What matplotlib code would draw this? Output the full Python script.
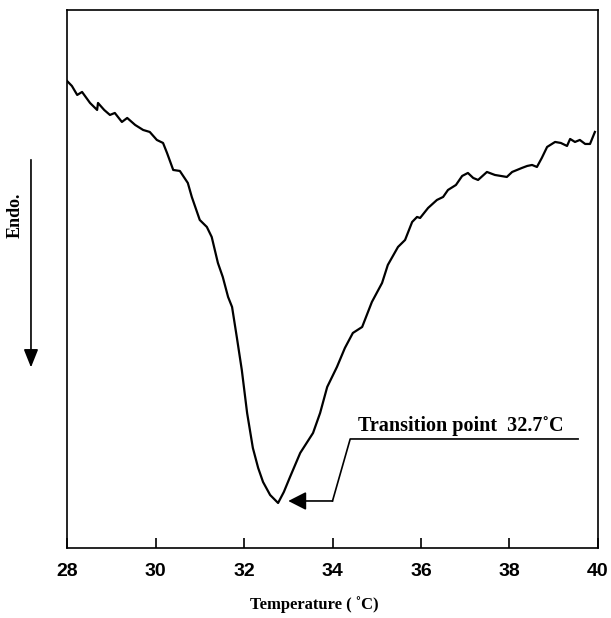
import matplotlib.pyplot as plt

# DSC trace (temperature in degC, heat flow in arbitrary units)
temp = [28.00, 28.11, 28.23, 28.34, 28.52, 28.68, 28.70, 28.84, 28.97, 29.08,
        29.24, 29.36, 29.54, 29.72, 29.87, 30.03, 30.17, 30.26, 30.40, 30.55,
        30.73, 30.82, 31.00, 31.16, 31.27, 31.41, 31.52, 31.64, 31.73, 31.84,
        31.95, 32.07, 32.20, 32.32, 32.43, 32.59, 32.77, 32.90, 33.04, 33.27,
        33.56, 33.72, 33.88, 34.10, 34.28, 34.46, 34.67, 34.89, 35.12, 35.25,
        35.48, 35.64, 35.80, 35.91, 35.98, 36.16, 36.36, 36.50, 36.61, 36.79,
        36.93, 37.06, 37.18, 37.29, 37.49, 37.67, 37.94, 38.06, 38.17, 38.28,
        38.40, 38.51, 38.62, 38.73, 38.85, 39.03, 39.16, 39.30, 39.37, 39.48,
        39.59, 39.71, 39.82, 39.93]
heat = [4.67, 4.62, 4.53, 4.56, 4.45, 4.38, 4.45, 4.38, 4.33, 4.35,
        4.26, 4.30, 4.23, 4.18, 4.16, 4.08, 4.05, 3.95, 3.78, 3.77,
        3.65, 3.51, 3.28, 3.21, 3.11, 2.85, 2.71, 2.51, 2.41, 2.10,
        1.78, 1.35, 1.00, 0.80, 0.66, 0.53, 0.45, 0.56, 0.71, 0.95,
        1.15, 1.35, 1.61, 1.81, 2.00, 2.15, 2.21, 2.46, 2.65, 2.83,
        3.01, 3.08, 3.26, 3.31, 3.30, 3.40, 3.48, 3.51, 3.58, 3.63,
        3.72, 3.75, 3.70, 3.68, 3.76, 3.73, 3.71, 3.76, 3.78, 3.80,
        3.82, 3.83, 3.81, 3.90, 4.01, 4.06, 4.05, 4.02, 4.09, 4.06,
        4.08, 4.04, 4.04, 4.16]
xticks = [28, 30, 32, 34, 36, 38, 40]
transition = 32.7

fig = plt.figure(figsize=(6.11, 6.18), dpi=100)
ax = fig.add_axes([0.1097, 0.1133, 0.869, 0.8706])

ax.plot(temp, heat, color='black', lw=1.6)
ax.set_xlim(28, 40)
ax.set_ylim(0, 5.38)
ax.set_xticks(xticks)
ax.set_yticks([])
ax.tick_params(axis='x', direction='in', length=7, width=1.2, pad=11)
for lab in ax.get_xticklabels():
    lab.set_family('Liberation Sans')
    lab.set_fontweight('bold')
    lab.set_fontsize(14)
for s in ax.spines.values():
    s.set_linewidth(1.2)

# annotation: arrow pointing at the minimum
ax.annotate('', xy=(33.0, 0.47), xytext=(34.0, 0.47),
            arrowprops=dict(arrowstyle='-|>,head_length=0.55,head_width=0.28',
                            color='black', lw=1.2, mutation_scale=20,
                            shrinkA=0, shrinkB=0))
ax.plot([34.0, 34.4, 39.55], [0.47, 1.09, 1.09], color='black', lw=1.2)
ax.text(34.58, 1.17, 'Transition point  %.1f˚C' % transition,
        family='Liberation Serif', fontweight='bold', fontsize=14.5,
        va='baseline', ha='left')

ax.set_xlabel('Temperature ( ˚C)', family='Liberation Serif',
              fontweight='bold', fontsize=12)
ax.xaxis.set_label_coords(0.465, -0.09)

# "Endo." with downward arrow on the left
fig.patches.append(plt.matplotlib.patches.FancyArrowPatch(
    (0.0507, 0.746), (0.0507, 0.401), transform=fig.transFigure,
    arrowstyle='-|>,head_length=0.55,head_width=0.22', mutation_scale=20,
    color='black', lw=1.2))
fig.text(0.0245, 0.652, 'Endo.', rotation=90, family='Liberation Serif',
         fontweight='bold', fontsize=13, ha='center', va='center')

fig.savefig('out.png', dpi=100)
